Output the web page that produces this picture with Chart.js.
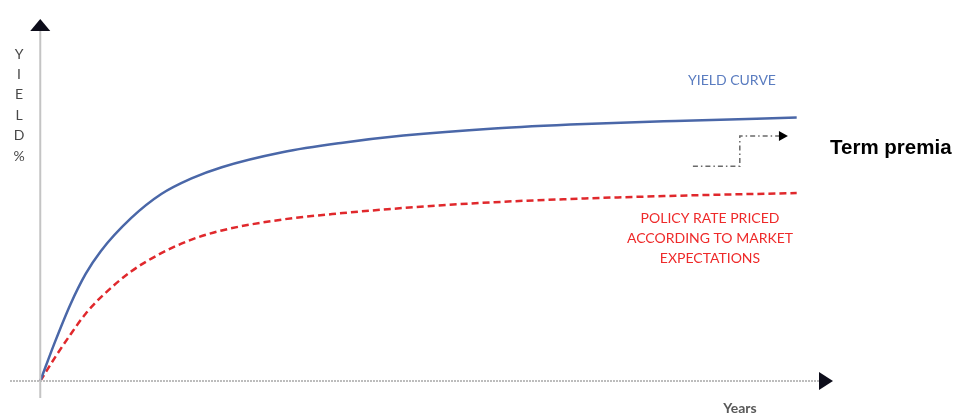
<!DOCTYPE html>
<html>
<head>
<meta charset="utf-8">
<title>Yield curve and term premia</title>
<script src="https://cdn.jsdelivr.net/npm/chart.js@4/dist/chart.umd.min.js"></script>
<style>
    html, body { margin: 0; padding: 0; background: #fff; }
    #wrap { position: relative; width: 954px; height: 414px; }
</style>
</head>
<body>
<div id="wrap"><canvas id="yieldChart"></canvas></div>
<script>
// 年限（横轴）
const years = [0, 0.5, 1, 1.5, 2, 3, 4, 5, 6, 8, 10, 12, 15, 18, 21, 25];

// 收益率曲线
const yieldCurve = [0, 1.18, 2.26, 3.15, 3.82, 4.79, 5.5, 5.96, 6.29, 6.73, 7.01, 7.22, 7.43, 7.56, 7.65, 7.75];

// 按市场预期定价的政策利率
const policyRate = [0, 0.71, 1.37, 1.98, 2.46, 3.22, 3.76, 4.16, 4.43, 4.75, 4.94, 5.09, 5.26, 5.37, 5.45, 5.53];

const yAxisLetters = ['Y', 'I', 'E', 'L', 'D', '%'];
const policyLabel = ['POLICY RATE PRICED', 'ACCORDING TO MARKET', 'EXPECTATIONS'];

function toPoints(xs, ys) {
    return xs.map((x, i) => ({ x: x, y: ys[i] }));
}

// 坐标轴、箭头和文字注释
const annotations = {
    id: 'annotations',
    afterDraw(chart) {
        const ctx = chart.ctx;
        const xs = chart.scales.x;
        const ys = chart.scales.y;
        const area = chart.chartArea;
        const x0 = xs.getPixelForValue(0);
        const y0 = ys.getPixelForValue(0);

        ctx.save();

        // 纵轴
        ctx.strokeStyle = '#c4c4c4';
        ctx.lineWidth = 2;
        ctx.beginPath();
        ctx.moveTo(x0, area.bottom);
        ctx.lineTo(x0, area.top + 10);
        ctx.stroke();
        ctx.fillStyle = '#0d0d1a';
        ctx.beginPath();
        ctx.moveTo(x0, area.top);
        ctx.lineTo(x0 + 10, area.top + 12);
        ctx.lineTo(x0 - 10, area.top + 12);
        ctx.closePath();
        ctx.fill();

        // 横轴（点线）
        ctx.strokeStyle = '#bdbdbd';
        ctx.setLineDash([2, 1]);
        ctx.beginPath();
        ctx.moveTo(area.left, y0);
        ctx.lineTo(area.right - 12, y0);
        ctx.stroke();
        ctx.setLineDash([]);
        ctx.fillStyle = '#0d0d1a';
        ctx.beginPath();
        ctx.moveTo(area.right, y0);
        ctx.lineTo(area.right - 14, y0 - 9);
        ctx.lineTo(area.right - 14, y0 + 9);
        ctx.closePath();
        ctx.fill();

        // 纵轴标题，竖排字母
        ctx.fillStyle = '#484848';
        ctx.font = '14px Lato, "Open Sans", sans-serif';
        ctx.textAlign = 'center';
        ctx.textBaseline = 'middle';
        yAxisLetters.forEach((ch, i) => {
            ctx.fillText(ch, 19, 54 + i * 20.4);
        });

        // 横轴标题
        ctx.fillStyle = '#595959';
        ctx.font = 'bold 14px Lato, "Open Sans", sans-serif';
        ctx.fillText('Years', 740, 408);

        // 曲线标签
        ctx.fillStyle = '#5a7cc0';
        ctx.font = '14px Lato, "Open Sans", sans-serif';
        ctx.fillText('YIELD CURVE', 732, 80);

        ctx.fillStyle = '#ee2a2a';
        policyLabel.forEach((line, i) => {
            ctx.fillText(line, 710, 218 + i * 20);
        });

        // 期限溢价箭头（点划线）
        const ax = xs.getPixelForValue(21.57);
        const bx = xs.getPixelForValue(23.12);
        const cx = xs.getPixelForValue(24.45);
        const tip = xs.getPixelForValue(24.71);
        const lowY = ys.getPixelForValue(6.32);
        const highY = ys.getPixelForValue(7.21);
        ctx.strokeStyle = '#6a6a6a';
        ctx.lineWidth = 1.5;
        ctx.setLineDash([5, 3, 1.5, 3]);
        ctx.beginPath();
        ctx.moveTo(ax, lowY);
        ctx.lineTo(bx, lowY);
        ctx.lineTo(bx, highY);
        ctx.lineTo(cx, highY);
        ctx.stroke();
        ctx.setLineDash([]);
        ctx.fillStyle = '#000';
        ctx.beginPath();
        ctx.moveTo(tip, highY);
        ctx.lineTo(tip - 9, highY - 5);
        ctx.lineTo(tip - 9, highY + 5);
        ctx.closePath();
        ctx.fill();

        ctx.fillStyle = '#000';
        ctx.font = 'bold 20.5px "Liberation Sans", Arial, sans-serif';
        ctx.textAlign = 'left';
        ctx.fillText('Term premia', 830, 148);

        ctx.restore();
    }
};

const ctx = document.getElementById('yieldChart').getContext('2d');
const yieldChart = new Chart(ctx, {
    type: 'line',
    data: {
        datasets: [
            {
                label: 'Yield curve',
                data: toPoints(years, yieldCurve),
                borderColor: '#4a67a8',
                borderWidth: 2.5,
                pointRadius: 0,
                cubicInterpolationMode: 'monotone',
                fill: false
            },
            {
                label: 'Policy rate priced according to market expectations',
                data: toPoints(years, policyRate),
                borderColor: '#e0282c',
                borderWidth: 2.5,
                borderDash: [7, 4],
                pointRadius: 0,
                cubicInterpolationMode: 'monotone',
                fill: false
            }
        ]
    },
    options: {
        responsive: true,
        maintainAspectRatio: false,
        animation: false,
        layout: {
            padding: { left: 10, right: 121, top: 19, bottom: 16 }
        },
        plugins: {
            legend: { display: false },
            tooltip: { enabled: false }
        },
        scales: {
            x: { type: 'linear', min: -1, max: 26.2, display: false },
            y: { min: -0.5, max: 10.65, display: false }
        }
    },
    plugins: [annotations]
});
</script>
</body>
</html>
